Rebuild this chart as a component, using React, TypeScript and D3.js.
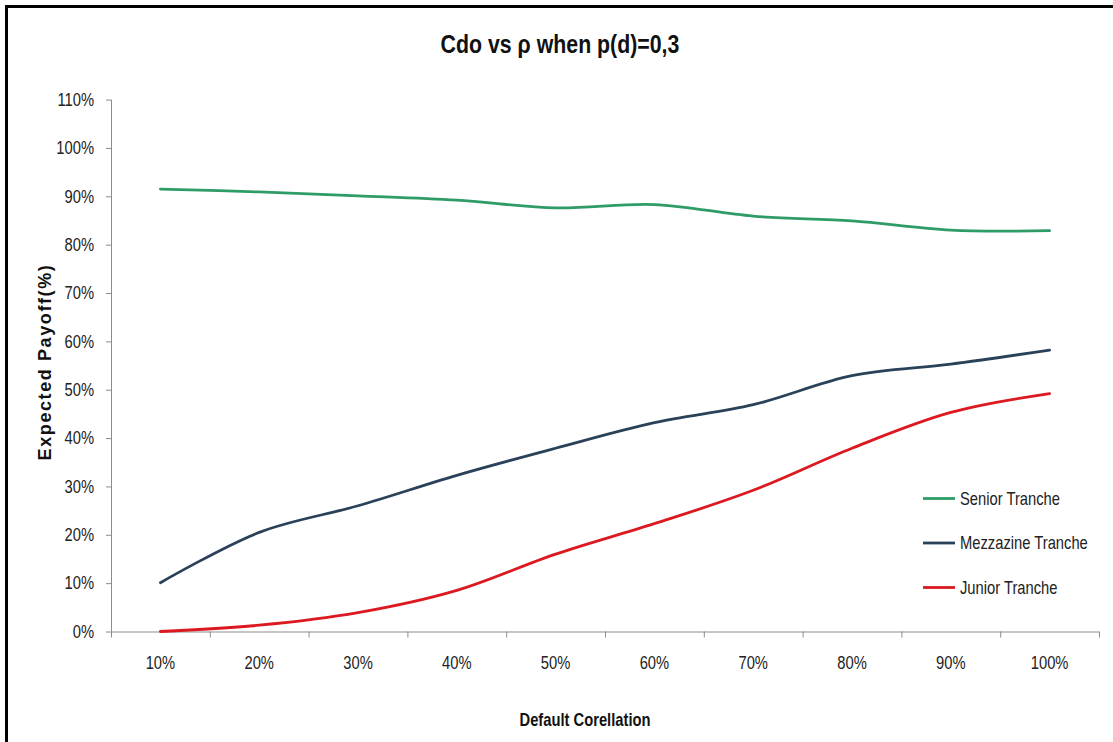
import React from "react";
import * as d3 from "d3";

// Default correlation categories on the x axis
const correlations: string[] = ["10%", "20%", "30%", "40%", "50%", "60%", "70%", "80%", "90%", "100%"];

// Expected payoff (%) per tranche
const seniorPayoff: number[] = [91.5, 90.9, 90.1, 89.2, 87.6, 88.3, 85.9, 84.9, 83.0, 82.9];
const mezzaninePayoff: number[] = [10.1, 20.5, 26.0, 32.3, 37.9, 43.2, 46.9, 52.9, 55.3, 58.2];
const juniorPayoff: number[] = [0.0, 1.3, 3.9, 8.5, 16.0, 22.3, 29.2, 37.9, 45.3, 49.2];

const seriesNames: string[] = ["Senior Tranche", "Mezzazine Tranche", "Junior Tranche"];
const yTicks: number[] = [0, 10, 20, 30, 40, 50, 60, 70, 80, 90, 100, 110];

const W = 1113;
const H = 742;
const FONT = "'Liberation Sans', Arial, sans-serif";
const NARROW = 0.82;

type NarrowTextProps = {
  x: number;
  y: number;
  anchor?: "start" | "middle" | "end";
  size: number;
  bold?: boolean;
  dy?: string;
  fill?: string;
  children: React.ReactNode;
};

// Condensed label: regular sans squeezed horizontally about its anchor point
function NarrowText({ x, y, anchor = "start", size, bold, dy, fill = "#222222", children }: NarrowTextProps) {
  return (
    <g transform={`translate(${x},${y}) scale(${NARROW},1)`}>
      <text x={0} y={0} dy={dy} textAnchor={anchor} fontSize={size} fontWeight={bold ? "bold" : "normal"} fill={fill}>
        {children}
      </text>
    </g>
  );
}

export default function App() {
  const left = 111;
  const right = 1099;
  const top = 99.6;
  const bottom = 631.5;

  const x = d3.scaleBand<string>().domain(correlations).range([left, right]).padding(0);
  const y = d3.scaleLinear().domain([0, 110]).range([bottom, top]);

  const series = [
    { name: seriesNames[0], values: seniorPayoff, color: "#2f9c68" },
    { name: seriesNames[1], values: mezzaninePayoff, color: "#2a4259" },
    { name: seriesNames[2], values: juniorPayoff, color: "#dc1820" },
  ];

  const cx = (i: number) => (x(correlations[i]) as number) + x.bandwidth() / 2;

  const line = d3
    .line<number>()
    .x((_, i) => cx(i))
    .y((v) => y(v))
    .curve(d3.curveCatmullRom.alpha(0.5));

  const axisColor = "#8c8c8c";
  const tickX = [...correlations.map((c) => x(c) as number), right];

  return (
    <svg
      width={W}
      height={H}
      style={{ position: "absolute", left: 0, top: 0, background: "#ffffff" }}
      fontFamily={FONT}
    >
      <rect x={0} y={0} width={W} height={H} fill="#ffffff" />
      {/* outer frame */}
      <rect x={6.5} y={6.5} width={W + 20} height={H + 20} fill="none" stroke="#000000" strokeWidth={3} />

      {/* title */}
      <NarrowText x={560} y={53} anchor="middle" size={26} bold fill="#111111">
        Cdo vs ρ when p(d)=0,3
      </NarrowText>

      {/* y axis */}
      <line x1={left + 0.5} x2={left + 0.5} y1={top} y2={bottom} stroke={axisColor} strokeWidth={1} />
      {yTicks.map((t) => (
        <g key={"y" + t}>
          <line x1={left - 5} x2={left} y1={y(t) + 0.5} y2={y(t) + 0.5} stroke={axisColor} strokeWidth={1} />
          <NarrowText x={94} y={y(t)} dy="0.35em" anchor="end" size={18}>
            {t + "%"}
          </NarrowText>
        </g>
      ))}

      {/* x axis */}
      <line x1={left} x2={right} y1={bottom + 0.5} y2={bottom + 0.5} stroke={axisColor} strokeWidth={1} />
      {tickX.map((tx, i) => (
        <line key={"xt" + i} x1={tx + 0.5} x2={tx + 0.5} y1={bottom} y2={bottom + 6} stroke={axisColor} strokeWidth={1} />
      ))}
      {correlations.map((c, i) => (
        <NarrowText key={"xl" + c} x={cx(i)} y={669} anchor="middle" size={18}>
          {c}
        </NarrowText>
      ))}

      {/* axis titles */}
      <NarrowText x={585} y={726} anchor="middle" size={18} bold fill="#111111">
        Default Corellation
      </NarrowText>
      <text
        transform={`translate(51, 362) rotate(-90)`}
        textAnchor="middle"
        fontSize={18}
        fontWeight="bold"
        fill="#111111"
        letterSpacing={1.6}
      >
        Expected Payoff(%)
      </text>

      {/* series */}
      {series.map((s) => (
        <path
          key={s.name}
          d={line(s.values) as string}
          fill="none"
          stroke={s.color}
          strokeWidth={2.8}
          strokeLinecap="round"
          strokeLinejoin="round"
        />
      ))}

      {/* legend */}
      {series.map((s, i) => {
        const ly = 498.5 + i * 44.5;
        return (
          <g key={"lg" + s.name}>
            <line x1={923} x2={955} y1={ly} y2={ly} stroke={s.color} strokeWidth={2.8} />
            <NarrowText x={960} y={ly} dy="0.35em" size={18}>
              {s.name}
            </NarrowText>
          </g>
        );
      })}
    </svg>
  );
}
